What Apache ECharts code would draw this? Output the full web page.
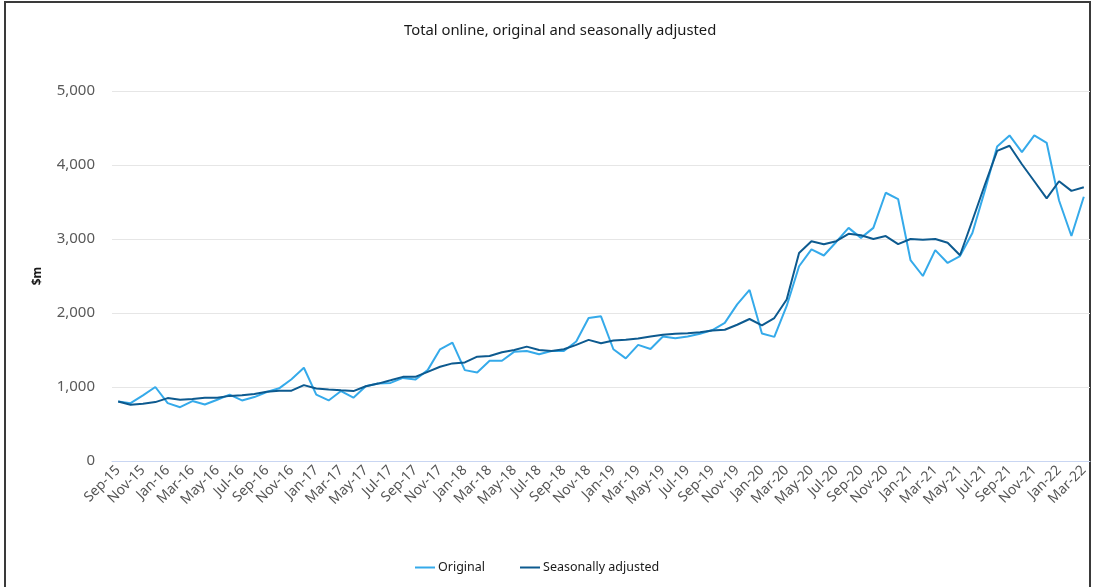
<!DOCTYPE html>
<html>
<head>
<meta charset="utf-8">
<script src="https://cdn.jsdelivr.net/npm/echarts@6/dist/echarts.min.js"></script>
<style>
html,body{margin:0;padding:0;background:#fff;}
#frame{position:absolute;left:4px;top:1px;width:1087px;height:600px;border:2px solid #3a3a3a;box-sizing:border-box;}
#chart{position:absolute;left:0;top:0;width:1095px;height:587px;}
</style>
</head>
<body>
<div id="frame"></div>
<div id="chart"></div>
<script>
const categories = ["Sep-15","Oct-15","Nov-15","Dec-15",
"Jan-16","Feb-16","Mar-16","Apr-16","May-16","Jun-16","Jul-16","Aug-16","Sep-16","Oct-16","Nov-16","Dec-16",
"Jan-17","Feb-17","Mar-17","Apr-17","May-17","Jun-17","Jul-17","Aug-17","Sep-17","Oct-17","Nov-17","Dec-17",
"Jan-18","Feb-18","Mar-18","Apr-18","May-18","Jun-18","Jul-18","Aug-18","Sep-18","Oct-18","Nov-18","Dec-18",
"Jan-19","Feb-19","Mar-19","Apr-19","May-19","Jun-19","Jul-19","Aug-19","Sep-19","Oct-19","Nov-19","Dec-19",
"Jan-20","Feb-20","Mar-20","Apr-20","May-20","Jun-20","Jul-20","Aug-20","Sep-20","Oct-20","Nov-20","Dec-20",
"Jan-21","Feb-21","Mar-21","Apr-21","May-21","Jun-21","Jul-21","Aug-21","Sep-21","Oct-21","Nov-21","Dec-21",
"Jan-22","Feb-22","Mar-22"];

const original = [805,782,887,1000,
782,727,810,764,828,896,818,864,932,982,1105,1260,
896,818,945,855,1010,1046,1055,1123,1100,1228,1510,1600,
1228,1196,1355,1355,1478,1487,1442,1487,1487,1614,1933,1955,
1510,1387,1569,1514,1682,1660,1682,1720,1770,1866,2116,2312,
1722,1677,2095,2632,2860,2777,2960,3150,3015,3150,3625,3540,
2716,2500,2850,2676,2770,3080,3650,4250,4400,4175,4400,4300,
3520,3040,3570];

const seasonallyAdjusted = [805,760,773,796,
850,828,837,855,855,880,887,905,937,950,950,1025,
980,966,955,945,1010,1046,1091,1137,1137,1205,1273,1319,
1332,1410,1419,1469,1500,1546,1500,1487,1510,1569,1637,1592,
1628,1637,1655,1682,1705,1719,1728,1740,1764,1773,1841,1919,
1832,1932,2183,2810,2970,2930,2970,3070,3050,3000,3040,2930,
3000,2990,3000,2950,2780,3250,3730,4190,4260,4010,3780,3550,
3780,3650,3700];

const seriesNames = ["Original","Seasonally adjusted"];
const titleText = "Total online, original and seasonally adjusted";
const yAxisName = "$m";

const FONT = "'Noto Sans', 'Open Sans', sans-serif";
const chart = echarts.init(document.getElementById('chart'), null, {renderer:'canvas'});
chart.setOption({
  animation:false,
  backgroundColor:'transparent',
  title:{
    text:titleText, left:399, top:18,
    textStyle:{fontFamily:FONT,fontSize:14.8,fontWeight:'normal',color:'#1a1a1a'}
  },
  legend:{
    bottom:8, left:410, itemGap:35, itemWidth:20, itemHeight:2,
    icon:'rect',
    textStyle:{fontFamily:FONT,fontSize:12.5,color:'#1a1a1a',padding:[0,0,0,-2]},
    data:seriesNames
  },
  grid:{left:112,right:5,top:91,bottom:126,containLabel:false},
  xAxis:{
    type:'category', data:categories, boundaryGap:true,
    axisLine:{lineStyle:{color:'#c9d6f2',width:1}},
    axisTick:{show:false},
    axisLabel:{interval:1,rotate:45,fontFamily:FONT,fontSize:14,color:'#555',margin:7}
  },
  yAxis:{
    type:'value', min:0, max:5000, interval:1000,
    name:yAxisName, nameLocation:'middle', nameGap:68, nameRotate:90,
    nameTextStyle:{fontFamily:FONT,fontSize:12,fontWeight:'bold',color:'#1a1a1a'},
    axisLine:{show:false}, axisTick:{show:false},
    splitLine:{lineStyle:{color:'#e6e6e6',width:1}},
    axisLabel:{fontFamily:FONT,fontSize:15,color:'#595959',margin:17,
      formatter:v=>v.toLocaleString('en-US')}
  },
  series:[
    {name:seriesNames[0],type:'line',data:original,symbol:'none',
     lineStyle:{color:'#35aaea',width:2},itemStyle:{color:'#35aaea'}},
    {name:seriesNames[1],type:'line',data:seasonallyAdjusted,symbol:'none',
     lineStyle:{color:'#0d5a8f',width:2},itemStyle:{color:'#0d5a8f'}}
  ]
});
</script>
</body>
</html>
